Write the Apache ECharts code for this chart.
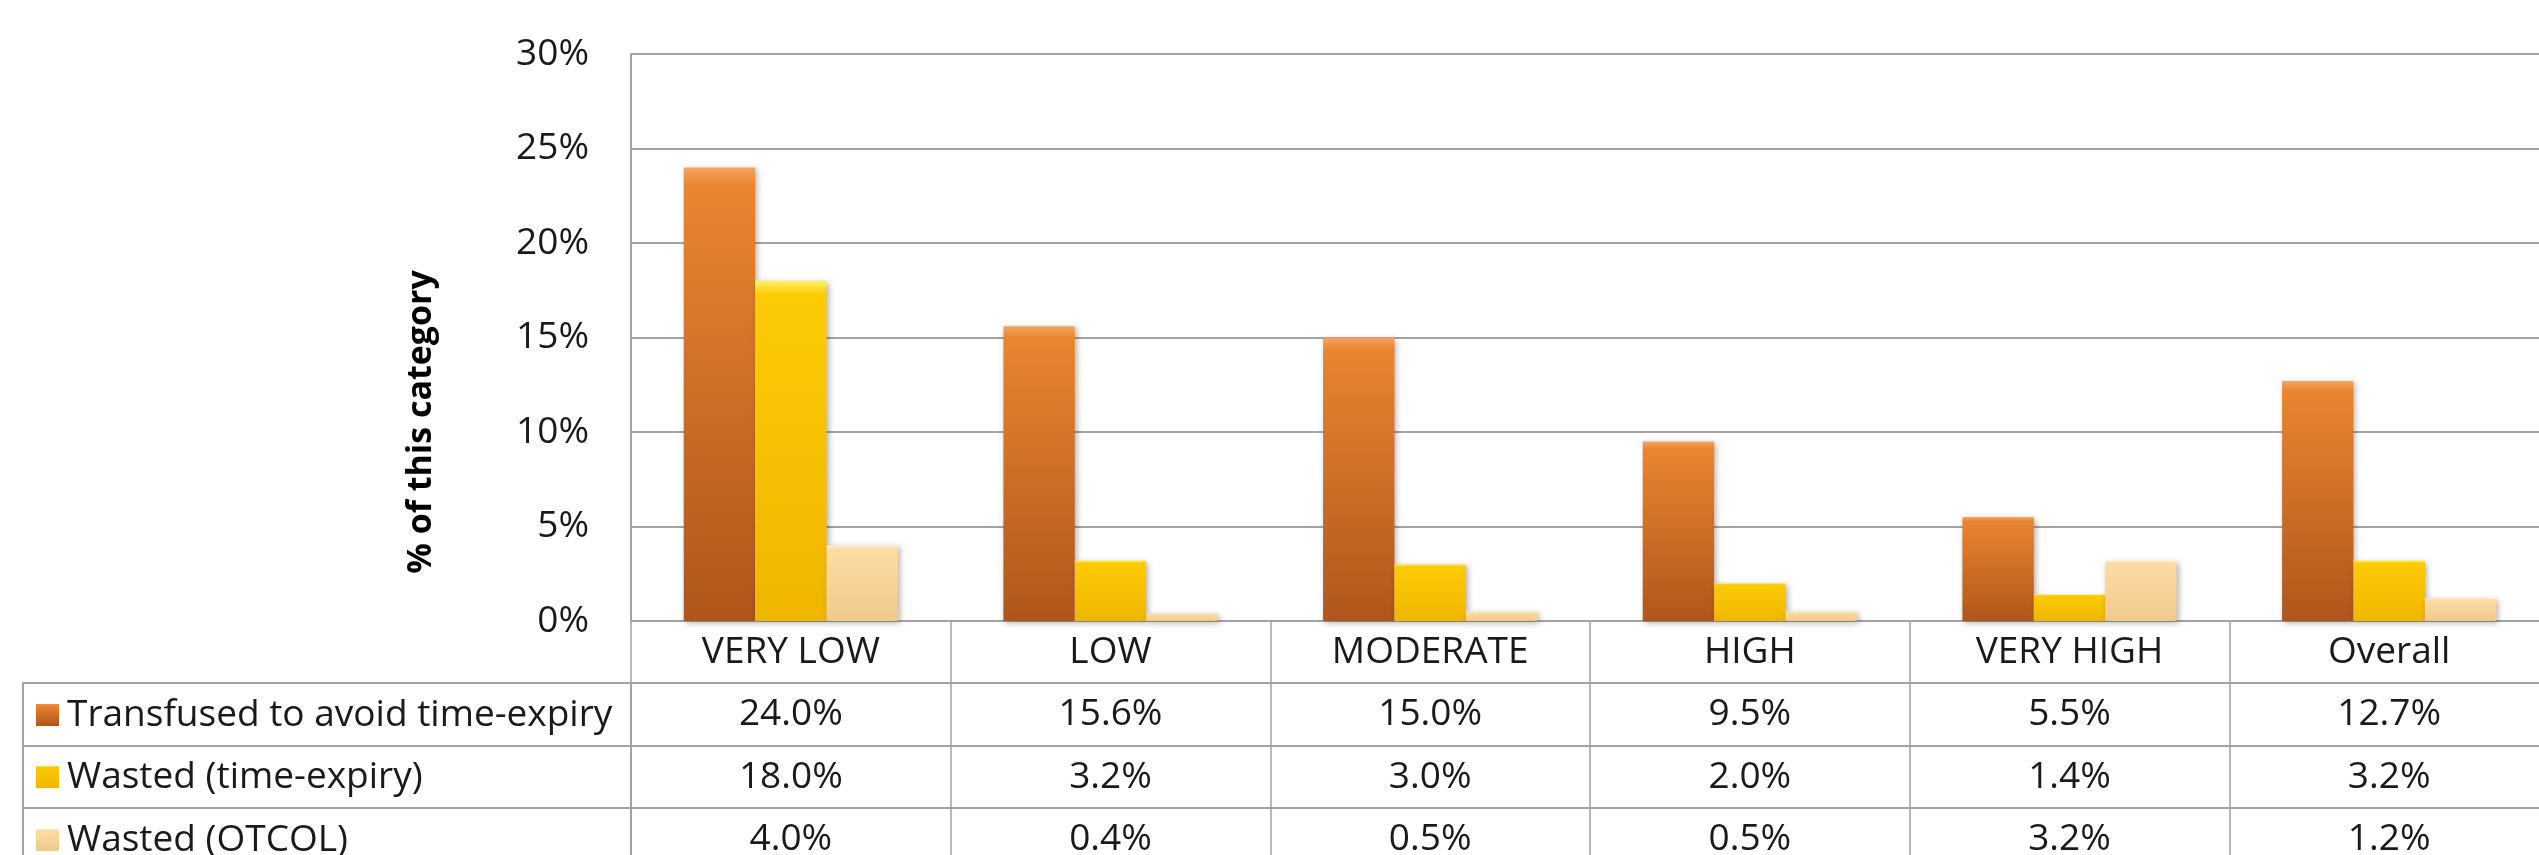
<!DOCTYPE html>
<html>
<head>
<meta charset="utf-8">
<script src="https://cdn.jsdelivr.net/npm/echarts@6/dist/echarts.min.js"></script>
<style>
  html, body { margin: 0; padding: 0; background: #fff; }
  #chart { width: 2539px; height: 855px; }
</style>
</head>
<body>
<div id="chart"></div>
<script>
const categories = ['VERY LOW', 'LOW', 'MODERATE', 'HIGH', 'VERY HIGH', 'Overall'];
const seriesNames = ['Transfused to avoid time-expiry', 'Wasted (time-expiry)', 'Wasted (OTCOL)'];
const transfused = [24.0, 15.6, 15.0, 9.5, 5.5, 12.7];
const wastedExpiry = [18.0, 3.2, 3.0, 2.0, 1.4, 3.2];
const wastedOtcol = [4.0, 0.4, 0.5, 0.5, 3.2, 1.2];
const yTicks = [0, 5, 10, 15, 20, 25, 30];

const font = 'Open Sans';
const fontSize = 37;
const gridColor = '#a3a3a3';
const rows = [transfused, wastedExpiry, wastedOtcol];

function grad(top, mid, bottom) {
    return new echarts.graphic.LinearGradient(0, 0, 0, 1, [
        { offset: 0, color: top },
        { offset: 0.04, color: mid },
        { offset: 1, color: bottom }
    ]);
}
const colors = [
    grad('#f4a662', '#ea852f', '#b0561b'),
    grad('#fff066', '#fdcb05', '#f0b600'),
    grad('#fff3d6', '#fddda3', '#f0c98c')
];

const chart = echarts.init(document.getElementById('chart'));

// category row + one row per series, as stacked bottom axes
const rowOffsets = [0, 62, 125, 187];
const xAxes = rowOffsets.map((off, k) => ({
    type: 'category',
    data: categories,
    position: 'bottom',
    offset: off,
    axisLine: { show: true, lineStyle: { color: gridColor, width: 2 } },
    axisTick: { show: true, length: 63, lineStyle: { color: gridColor, width: 1.5 } },
    axisLabel: {
        margin: 31,
        verticalAlign: 'middle',
        fontFamily: font,
        fontSize: fontSize,
        color: '#1a1a1a',
        formatter: (v, i) => k === 0 ? v : rows[k - 1][i].toFixed(1) + '%'
    }
}));

// one legend per table row so each key sits in its own row
const rowCenters = [715, 777, 840];
const legends = seriesNames.map((name, i) => ({
    left: 36,
    top: rowCenters[i] - 20,
    padding: 0,
    itemWidth: 23,
    itemHeight: 22,
    icon: 'rect',
    selectedMode: false,
    textStyle: { fontFamily: font, fontSize: fontSize, lineHeight: 40, color: '#1a1a1a', padding: [0, 0, 0, 3] },
    data: [name]
}));

chart.setOption({
    animation: false,
    grid: { left: 631, right: -10, top: 54, bottom: 234, containLabel: false, outerBoundsMode: 'none' },
    legend: legends,
    xAxis: xAxes,
    yAxis: {
        type: 'value',
        min: yTicks[0],
        max: yTicks[yTicks.length - 1],
        interval: 5,
        axisLine: { show: true, lineStyle: { color: gridColor, width: 2 } },
        axisTick: { show: false },
        splitLine: { lineStyle: { color: gridColor, width: 2 } },
        axisLabel: { margin: 42, fontFamily: font, fontSize: fontSize, color: '#1a1a1a', formatter: '{value}%' }
    },
    graphic: [
        {
            type: 'text',
            x: 421, y: 422,
            rotation: Math.PI / 2,
            style: {
                text: '% of this category',
                font: 'bold 34px "Open Sans"',
                fill: '#000',
                align: 'center',
                verticalAlign: 'middle'
            }
        },
        {
            type: 'rect',
            shape: { x: 23, y: 683, width: 608, height: 200 },
            style: { fill: 'none', stroke: gridColor, lineWidth: 2 }
        },
        { type: 'line', shape: { x1: 23, y1: 746, x2: 631, y2: 746 }, style: { stroke: gridColor, lineWidth: 2 } },
        { type: 'line', shape: { x1: 23, y1: 808, x2: 631, y2: 808 }, style: { stroke: gridColor, lineWidth: 2 } }
    ],
    series: rows.map((data, i) => ({
        name: seriesNames[i],
        type: 'bar',
        data: data,
        barGap: '0%',
        barCategoryGap: '33%',
        itemStyle: {
            color: colors[i],
            shadowBlur: 6,
            shadowColor: 'rgba(0,0,0,0.3)',
            shadowOffsetX: 2,
            shadowOffsetY: 2
        }
    }))
});
</script>
</body>
</html>
